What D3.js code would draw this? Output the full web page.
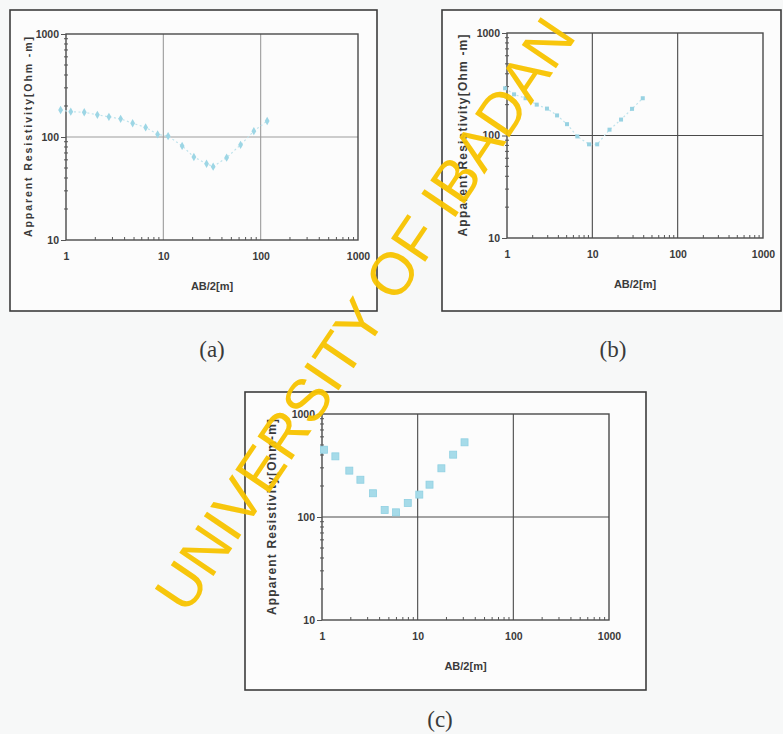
<!DOCTYPE html>
<html>
<head>
<meta charset="utf-8">
<script src="https://cdn.jsdelivr.net/npm/d3@7"></script>
<style>
  html, body { margin: 0; padding: 0; background: #f7f8f8; }
  svg { display: block; }
</style>
</head>
<body>
<svg id="chart" width="783" height="734"></svg>
<script>
// ---- data ----
const xTickValues = [1, 10, 100, 1000];
const yTickValues = [10, 100, 1000];
const xTitle = "AB/2[m]";
const yTitles = ["Apparent Resistivity[Ohm -m]", "Apparent Resistivity[Ohm -m]", "Apparent Resistivity[Ohm-m]"];
const captions = ["(a)", "(b)", "(c)"];

const abA  = [0.88, 1.12, 1.54, 2.1, 2.76, 3.64, 4.84, 6.58, 8.74, 11.2, 15.6, 20.6, 27.8, 32.5, 44.7, 62.2, 85.1, 116.6];
const rhoA = [183, 176, 174, 164, 157, 150, 136, 124, 106, 102, 82, 64, 55, 51.5, 63, 84, 114, 143];

const abB  = [0.95, 1.21, 1.65, 2.23, 2.94, 3.86, 5.05, 6.67, 9.15, 11.4, 15.9, 21.7, 29.2, 39];
const rhoB = [289, 252, 231, 200, 183, 157, 129, 98, 82, 82, 114, 143, 182, 231];

const abC  = [1.05, 1.38, 1.93, 2.52, 3.42, 4.52, 5.95, 7.88, 10.4, 13.3, 17.7, 23.5, 30.9];
const rhoC = [450, 388, 282, 230, 170, 117, 111, 137, 165, 206, 297, 403, 531];

const watermark = "UNIVERSITY OF IBADAN";

// ---- layout ----
const svg = d3.select("#chart");
const FONT = "'Liberation Sans', Arial, sans-serif";

const panels = [
  { ab: abA, rho: rhoA, box: {x: 10, y: 10, w: 367, h: 301}, plot: {l: 66, r: 358, t: 34, b: 240},
    gridColor: "#9c9c9c", marker: "dot", line: true, ytx: 28, cap: {x: 212, y: 357},
    titleLen: 200, titleSize: 10.5 },
  { ab: abB, rho: rhoB, box: {x: 442, y: 10, w: 339, h: 301}, plot: {l: 507, r: 763, t: 33, b: 238},
    gridColor: "#4a4a4a", marker: "small", line: true, ytx: 463, cap: {x: 613, y: 357},
    titleLen: 202, titleSize: 12 },
  { ab: abC, rho: rhoC, box: {x: 245, y: 392, w: 401, h: 298}, plot: {l: 322, r: 609, t: 414, b: 620},
    gridColor: "#4a4a4a", marker: "square", line: false, ytx: 272, cap: {x: 440, y: 727},
    titleLen: 196, titleSize: 12 }
];

panels.forEach((p, i) => {
  const g = svg.append("g");
  // outer frame
  g.append("rect").attr("x", p.box.x).attr("y", p.box.y).attr("width", p.box.w).attr("height", p.box.h)
    .attr("fill", "#fcfcfc").attr("stroke", "#3c3c3c").attr("stroke-width", 1.6);

  const x = d3.scaleLog().domain([1, 1000]).range([p.plot.l, p.plot.r]);
  const y = d3.scaleLog().domain([10, 1000]).range([p.plot.b, p.plot.t]);

  // grid lines
  [10, 100].forEach(v => {
    g.append("line").attr("x1", x(v)).attr("x2", x(v)).attr("y1", p.plot.t).attr("y2", p.plot.b)
      .attr("stroke", p.gridColor).attr("stroke-width", 1.1);
  });
  g.append("line").attr("x1", p.plot.l).attr("x2", p.plot.r).attr("y1", y(100)).attr("y2", y(100))
    .attr("stroke", p.gridColor).attr("stroke-width", 1.1);

  // plot border
  g.append("rect").attr("x", p.plot.l).attr("y", p.plot.t)
    .attr("width", p.plot.r - p.plot.l).attr("height", p.plot.b - p.plot.t)
    .attr("fill", "none").attr("stroke", "#4a4a4a").attr("stroke-width", 1.4);

  // minor ticks
  const minorX = [];
  [1, 10, 100].forEach(d => { for (let k = 2; k <= 9; k++) minorX.push(d * k); });
  g.selectAll(null).data(minorX).enter().append("line")
    .attr("x1", d => x(d)).attr("x2", d => x(d))
    .attr("y1", p.plot.b).attr("y2", p.plot.b - 3)
    .attr("stroke", "#555").attr("stroke-width", 1);
  const minorY = [];
  [10, 100].forEach(d => { for (let k = 2; k <= 9; k++) minorY.push(d * k); });
  g.selectAll(null).data(minorY).enter().append("line")
    .attr("x1", p.plot.l - 2).attr("x2", p.plot.l + 2)
    .attr("y1", d => y(d)).attr("y2", d => y(d))
    .attr("stroke", "#555").attr("stroke-width", 1);

  // axes (labels)
  const xAxis = d3.axisBottom(x).tickValues(xTickValues).tickSize(0).tickPadding(13)
    .tickFormat(d3.format("d"));
  const gx = g.append("g").attr("transform", `translate(0,${p.plot.b})`).call(xAxis);
  gx.select(".domain").remove();
  gx.selectAll("text").attr("font-family", FONT).attr("font-size", 10.5).attr("font-weight", "bold")
    .attr("fill", "#3a3a3a");

  const yAxis = d3.axisLeft(y).tickValues(yTickValues).tickSize(5).tickPadding(2)
    .tickFormat(d3.format("d"));
  const gy = g.append("g").attr("transform", `translate(${p.plot.l},0)`).call(yAxis);
  gy.select(".domain").remove();
  gy.selectAll("line").attr("stroke", "#555");
  gy.selectAll("text").attr("font-family", FONT).attr("font-size", 10.5).attr("font-weight", "bold")
    .attr("fill", "#3a3a3a");

  // titles
  g.append("text").attr("x", (p.plot.l + p.plot.r) / 2).attr("y", p.plot.b + 50)
    .attr("text-anchor", "middle").attr("font-family", FONT).attr("font-size", 11)
    .attr("font-weight", "bold").attr("fill", "#3a3a3a").text(xTitle);
  const cy = (p.plot.t + p.plot.b) / 2;
  g.append("text").attr("transform", `translate(${p.ytx},${cy}) rotate(-90)`)
    .attr("text-anchor", "middle").attr("dy", "0.35em")
    .attr("font-family", FONT).attr("font-size", p.titleSize).attr("font-weight", "bold").attr("fill", "#3a3a3a")
    .attr("textLength", p.titleLen).attr("lengthAdjust", "spacing")
    .text(yTitles[i]);

  // data
  const pts = p.ab.map((v, j) => [x(v), y(p.rho[j])]);
  if (p.line) {
    g.append("path").attr("d", d3.line()(pts)).attr("fill", "none")
      .attr("stroke", "#bfe3ec").attr("stroke-width", 1.2).attr("stroke-dasharray", "2,2.5");
  }
  if (p.marker === "square") {
    g.selectAll(null).data(pts).enter().append("rect")
      .attr("x", d => d[0] - 3.5).attr("y", d => d[1] - 3.5).attr("width", 7).attr("height", 7)
      .attr("fill", "#a6dbe9").attr("stroke", "#8fd0e2").attr("stroke-width", 0.8);
  } else if (p.marker === "dot") {
    g.selectAll(null).data(pts).enter().append("path")
      .attr("transform", d => `translate(${d[0]},${d[1]})`)
      .attr("d", d3.symbol(d3.symbolDiamond, 20))
      .attr("fill", "#9dd6e5");
  } else {
    g.selectAll(null).data(pts).enter().append("rect")
      .attr("x", d => d[0] - 2).attr("y", d => d[1] - 2).attr("width", 4).attr("height", 4)
      .attr("fill", "#98d2e2");
  }

  // caption
  svg.append("text").attr("x", p.cap.x).attr("y", p.cap.y).attr("text-anchor", "middle")
    .attr("font-family", "'Liberation Serif', 'DejaVu Serif', serif").attr("font-size", 23)
    .attr("fill", "#3a3a3a").text(captions[i]);
});

// watermark
svg.append("text").attr("transform", "translate(364,314) rotate(-56)")
  .attr("text-anchor", "middle").attr("dy", "0.36em")
  .attr("font-family", FONT).attr("font-size", 60)
  .attr("fill", "#f8c400").attr("opacity", 0.95)
  .text(watermark);
</script>
</body>
</html>
